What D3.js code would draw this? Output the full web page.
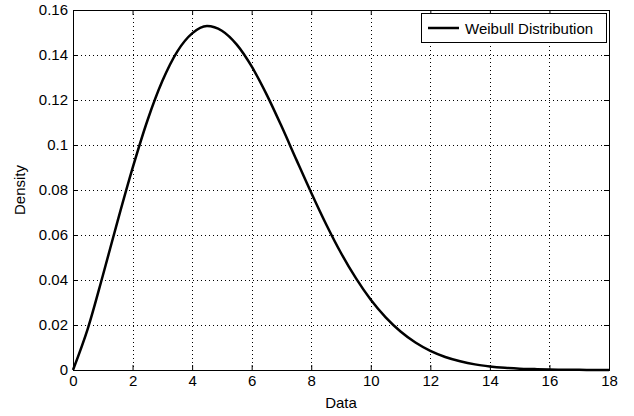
<!DOCTYPE html>
<html>
<head>
<meta charset="utf-8">
<script src="https://cdn.jsdelivr.net/npm/d3@7"></script>
<style>
  body { margin: 0; background: #fff; }
  svg { display: block; font-family: "Liberation Sans", Arial, sans-serif; }
</style>
</head>
<body>
<div id="chart"></div>
<script>
"use strict";

// values
var xs = [0, 0.5, 1, 1.5, 2, 2.5, 3, 3.5, 4, 4.5, 5, 5.5, 6, 6.5, 7, 7.5, 8, 8.5, 9,
          9.5, 10, 10.5, 11, 11.5, 12, 12.5, 13, 13.5, 14, 14.5, 15, 15.5, 16, 16.5, 17, 17.5, 18];
var density = [0, 0.0185, 0.0419, 0.0663, 0.0897, 0.1109, 0.1284, 0.1415, 0.1496, 0.1529,
               0.1508, 0.1446, 0.1349, 0.1225, 0.1084, 0.0935, 0.0788, 0.0648, 0.0520,
               0.0408, 0.0312, 0.0234, 0.0171, 0.0122, 0.0085, 0.0058, 0.0039, 0.0025,
               0.0016, 0.0010, 0.0006, 0.0004, 0.0002, 0.0001, 0.0001, 0, 0];
var xTicks = [0, 2, 4, 6, 8, 10, 12, 14, 16, 18];
var yTicks = [0, 0.02, 0.04, 0.06, 0.08, 0.1, 0.12, 0.14, 0.16];
var legendLabel = "Weibull Distribution";

var width = 634, height = 416;
var mLeft = 73, mRight = 609, mTop = 10, mBottom = 370;
var fontSize = "15px";

var svg = d3.select("#chart").append("svg")
  .attr("width", width)
  .attr("height", height);

var x = d3.scaleLinear().domain([0, 18]).range([mLeft, mRight]);
var y = d3.scaleLinear().domain([0, 0.16]).range([mBottom, mTop]);

// dotted grid
var grid = svg.append("g");
grid.selectAll("line.gx")
  .data(xTicks.slice(1, -1))
  .enter().append("line")
  .attr("x1", d => Math.round(x(d)) + 0.5)
  .attr("x2", d => Math.round(x(d)) + 0.5)
  .attr("y1", mTop)
  .attr("y2", mBottom)
  .attr("stroke", "#000")
  .attr("stroke-dasharray", "1,3");
grid.selectAll("line.gy")
  .data(yTicks.slice(1, -1))
  .enter().append("line")
  .attr("y1", d => Math.round(y(d)) + 0.5)
  .attr("y2", d => Math.round(y(d)) + 0.5)
  .attr("x1", mLeft)
  .attr("x2", mRight)
  .attr("stroke", "#000")
  .attr("stroke-dasharray", "1,3");

// axes, ticks pointing inward
function styleAxis(g) {
  g.select(".domain").remove();
  g.selectAll("text").attr("font-size", fontSize).attr("fill", "#000")
    .attr("font-family", "\"Liberation Sans\", Arial, sans-serif");
}
var fmt = d => String(d);

svg.append("g")
  .attr("transform", "translate(0," + mBottom + ")")
  .call(d3.axisBottom(x).tickValues(xTicks).tickFormat(fmt).tickSizeInner(-5).tickSizeOuter(0).tickPadding(5))
  .call(styleAxis);
svg.append("g")
  .attr("transform", "translate(0," + mTop + ")")
  .call(d3.axisTop(x).tickValues(xTicks).tickFormat("").tickSizeInner(-5).tickSizeOuter(0))
  .call(styleAxis);
svg.append("g")
  .attr("transform", "translate(" + mLeft + ",0)")
  .call(d3.axisLeft(y).tickValues(yTicks).tickFormat(fmt).tickSizeInner(-5).tickSizeOuter(0).tickPadding(5))
  .call(styleAxis);
svg.append("g")
  .attr("transform", "translate(" + mRight + ",0)")
  .call(d3.axisRight(y).tickValues(yTicks).tickFormat("").tickSizeInner(-5).tickSizeOuter(0))
  .call(styleAxis);

// box
svg.append("rect")
  .attr("x", mLeft + 0.5)
  .attr("y", mTop + 0.5)
  .attr("width", mRight - mLeft)
  .attr("height", mBottom - mTop)
  .attr("fill", "none")
  .attr("stroke", "#000");

// curve
var line = d3.line()
  .x((d, i) => x(xs[i]))
  .y(d => y(d))
  .curve(d3.curveMonotoneX);
svg.append("path")
  .datum(density)
  .attr("d", line)
  .attr("fill", "none")
  .attr("stroke", "#000")
  .attr("stroke-width", 2.5)
  .attr("stroke-linejoin", "round");

// axis labels
svg.append("text")
  .attr("x", (mLeft + mRight) / 2)
  .attr("y", 408)
  .attr("text-anchor", "middle")
  .attr("font-size", fontSize)
  .text("Data");
svg.append("text")
  .attr("transform", "translate(25," + (mTop + mBottom) / 2 + ") rotate(-90)")
  .attr("text-anchor", "middle")
  .attr("font-size", fontSize)
  .text("Density");

// legend
var lg = svg.append("g");
lg.append("rect")
  .attr("x", 421.5)
  .attr("y", 13.5)
  .attr("width", 185)
  .attr("height", 29)
  .attr("fill", "#fff")
  .attr("stroke", "#000");
lg.append("line")
  .attr("x1", 428)
  .attr("x2", 459)
  .attr("y1", 28)
  .attr("y2", 28)
  .attr("stroke", "#000")
  .attr("stroke-width", 2.5);
lg.append("text")
  .attr("x", 465)
  .attr("y", 33.5)
  .attr("font-size", fontSize)
  .text(legendLabel);
</script>
</body>
</html>
